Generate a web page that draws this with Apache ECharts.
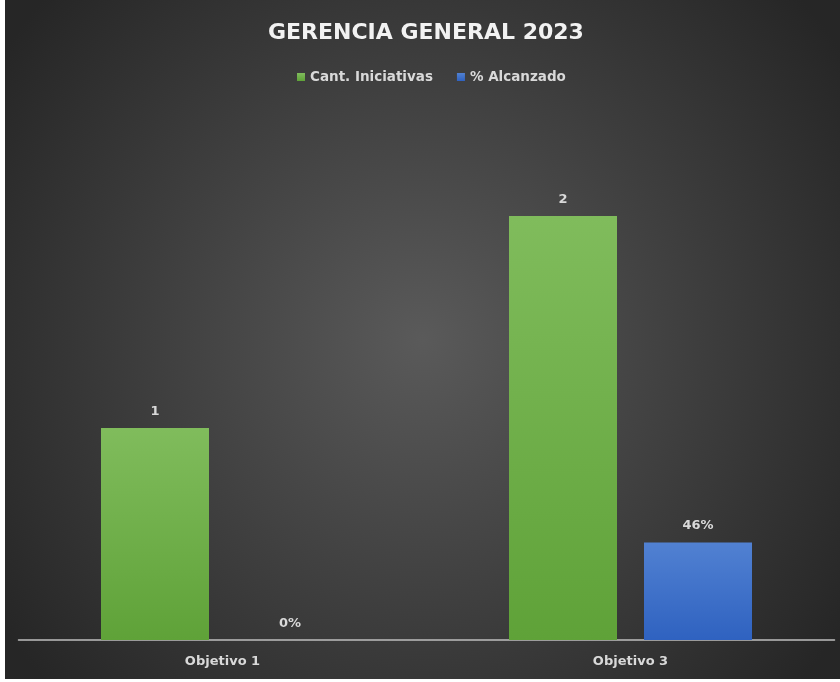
<!DOCTYPE html>
<html>
<head>
<meta charset="utf-8">
<script src="https://cdn.jsdelivr.net/npm/echarts@6/dist/echarts.min.js"></script>
<style>
html,body{margin:0;padding:0;background:#ffffff;width:840px;height:682px;overflow:hidden;}
#chart{position:absolute;left:5px;top:0;width:835px;height:679px;}
</style>
</head>
<body>
<div id="chart"></div>
<script>
const categories = ['Objetivo 1', 'Objetivo 3'];
const iniciativas = [1, 2];
const alcanzado = [0, 0.46];
const seriesNames = ['Cant. Iniciativas', '% Alcanzado'];
const titleText = 'GERENCIA GENERAL 2023';

const chart = echarts.init(document.getElementById('chart'));
const font = '"DejaVu Sans", "Open Sans", sans-serif';
const textColor = '#d9d9d9';
chart.setOption({
  backgroundColor: {
    type: 'radial', x: 0.5, y: 0.5, r: 0.75,
    colorStops: [{offset: 0, color: '#5a5a5a'}, {offset: 1, color: '#262626'}]
  },
  title: {
    text: titleText, left: 258, top: 17,
    textStyle: {color: '#f2f2f2', fontSize: 22, fontWeight: 'bold', fontFamily: font}
  },
  legend: {
    top: 65, left: 287, itemWidth: 8, itemHeight: 8, itemGap: 24,
    icon: 'rect',
    textStyle: {color: textColor, fontSize: 13.5, fontFamily: font, fontWeight: 'bold'},
    data: seriesNames
  },
  grid: {left: 13.5, right: 5.5, top: 110, bottom: 39},
  xAxis: {
    type: 'category', data: categories,
    axisLine: {lineStyle: {color: '#bfbfbf', width: 1.5}},
    axisTick: {show: false},
    axisLabel: {color: textColor, fontSize: 13, fontWeight: 'bold', fontFamily: font, margin: 15}
  },
  yAxis: {type: 'value', min: 0, max: 2.5, show: false, splitLine: {show: false}},
  series: [
    {
      name: seriesNames[0], type: 'bar', data: iniciativas,
      barWidth: 108, barGap: '25%',
      itemStyle: {color: {type: 'linear', x: 0, y: 0, x2: 0, y2: 1,
        colorStops: [{offset: 0, color: '#80bc5c'}, {offset: 1, color: '#5fa238'}]}},
      label: {show: true, position: 'top', distance: 10, color: textColor, fontSize: 13,
        fontWeight: 'bold', fontFamily: font}
    },
    {
      name: seriesNames[1], type: 'bar', data: alcanzado,
      barWidth: 108,
      itemStyle: {color: {type: 'linear', x: 0, y: 0, x2: 0, y2: 1,
        colorStops: [{offset: 0, color: '#5181d2'}, {offset: 1, color: '#2f62c0'}]}},
      label: {show: true, position: 'top', distance: 10, color: textColor, fontSize: 13,
        fontWeight: 'bold', fontFamily: font,
        formatter: p => Math.round(p.value * 100) + '%'}
    }
  ]
});
</script>
</body>
</html>
